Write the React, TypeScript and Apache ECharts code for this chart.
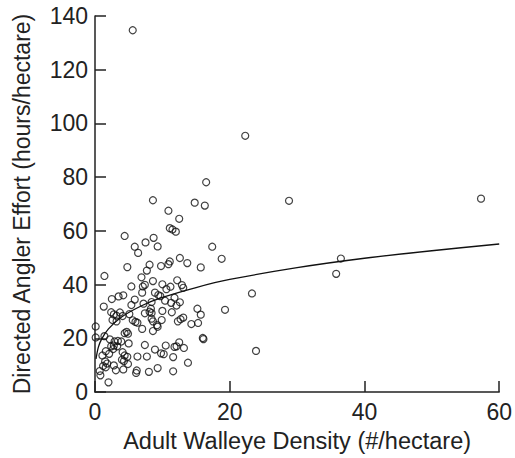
import React, { useEffect, useRef } from "react";
import * as echarts from "echarts";

const densityX: number[] = [
  16.5, 8.6, 14.8, 16.3, 28.8, 10.9, 12.5, 11.1, 11.5, 12.0,
  4.4, 8.7, 7.5, 5.9, 9.3, 6.4, 17.4, 18.8, 12.6, 11.1,
  10.9, 13.7, 9.8, 8.1, 4.8, 15.7, 7.7, 1.4, 6.9, 12.2,
  8.6, 7.4, 7.1, 10.0, 11.2, 12.9, 13.1, 5.4, 10.6, 23.3,
  7.0, 8.9, 9.4, 9.7, 3.5, 4.2, 11.8, 2.5, 5.9, 10.4,
  11.3, 8.4, 7.2, 12.6, 5.4, 1.3, 12.1, 8.3, 8.1, 8.4,
  15.2, 19.3, 2.4, 2.8, 3.2, 3.7, 4.1, 5.1, 7.4, 10.0,
  11.4, 15.7, 2.6, 3.2, 5.6, 6.0, 6.3, 8.4, 8.6, 9.9,
  12.3, 12.7, 13.1, 14.3, 15.3, 0.1, 9.2, 9.3, 4.7, 4.4,
  4.9, 7.0, 8.6, 0.1, 1.4, 2.2, 16.0, 16.1, 2.9, 3.4,
  3.9, 5.0, 12.5, 2.4, 2.8, 3.3, 7.4, 10.5, 11.8, 12.1,
  13.2, 1.6, 2.7, 2.1, 23.9, 8.9, 9.8, 10.2, 4.1, 4.4,
  4.8, 1.1, 6.3, 7.7, 11.6, 4.0, 4.3, 1.5, 1.8, 13.8,
  4.9, 1.2, 1.6, 2.8, 4.2, 3.1, 9.3, 6.2, 6.1, 8.0,
  11.6, 0.7, 0.8, 2.0, 22.3, 57.3, 36.5, 35.8, 5.6,
];

const effortY: number[] = [
  78.1, 71.4, 70.5, 69.4, 71.2, 67.5, 64.5, 61.0, 60.5, 59.7,
  58.1, 57.4, 55.7, 54.1, 54.2, 51.8, 54.1, 49.6, 49.9, 48.6,
  47.6, 48.0, 46.9, 47.4, 46.5, 46.4, 45.2, 43.2, 42.7, 41.6,
  41.3, 39.9, 39.3, 40.1, 39.2, 39.8, 38.8, 39.3, 38.3, 36.7,
  37.0, 37.0, 36.1, 35.7, 35.6, 36.0, 35.1, 34.6, 34.4, 34.0,
  33.2, 33.5, 32.9, 33.4, 32.4, 31.8, 32.2, 31.0, 29.9, 29.4,
  31.0, 30.6, 29.7, 28.9, 28.4, 29.6, 28.3, 29.0, 29.3, 30.2,
  29.7, 28.8, 26.8, 26.3, 26.7, 26.1, 25.8, 27.3, 26.3, 26.8,
  26.3, 27.1, 27.7, 25.3, 25.7, 24.4, 24.9, 24.3, 22.4, 21.9,
  21.7, 23.5, 22.7, 20.3, 20.8, 19.6, 20.1, 19.7, 18.8, 19.0,
  18.8, 18.1, 18.5, 17.0, 17.3, 17.0, 17.5, 17.3, 16.8, 17.0,
  16.4, 15.2, 16.0, 14.2, 15.3, 15.8, 14.4, 14.1, 14.8, 13.6,
  13.1, 13.6, 13.2, 13.2, 13.0, 12.0, 11.5, 11.4, 10.6, 10.9,
  10.4, 9.7, 9.2, 9.9, 8.4, 8.1, 8.9, 8.0, 7.1, 7.5,
  7.7, 7.8, 6.2, 3.6, 95.4, 72.0, 49.7, 44.0, 134.7,
];

// fitted curve
const curveX: number[] = [0.15, 0.5, 1, 2, 4, 7, 10, 15, 20, 30, 40, 50, 60];
const curveY: number[] = [12.3, 16.7, 19.8, 23.5, 28.0, 32.2, 35.2, 38.9, 41.9, 46.3, 49.8, 52.6, 55.1];

const xTicks: number[] = [0, 20, 40, 60];
const yTicks: number[] = [0, 20, 40, 60, 80, 100, 120, 140];

const FONT = "'Liberation Sans', Arial, Helvetica, sans-serif";
const INK = "#222";

export default function App() {
  const ref = useRef<HTMLDivElement>(null);
  useEffect(() => {
    if (!ref.current) return;
    const chart = echarts.init(ref.current, undefined, { renderer: "svg" });
    const points = densityX.map((x, i) => [x, effortY[i]]);
    const curve = curveX.map((x, i) => [x, curveY[i]]);
    chart.setOption({
      animation: false,
      backgroundColor: "#fff",
      grid: { left: 95, top: 16, width: 407, height: 381, containLabel: false },
      xAxis: {
        type: "value",
        min: xTicks[0],
        max: xTicks[xTicks.length - 1],
        interval: 20,
        name: "Adult Walleye Density (#/hectare)",
        nameLocation: "middle",
        nameGap: 37,
        nameTextStyle: { fontFamily: FONT, fontSize: 23.5, color: INK },
        axisLine: { lineStyle: { color: INK, width: 1.5 } },
        axisTick: { inside: true, length: 11, lineStyle: { color: INK, width: 1.5 } },
        axisLabel: { fontFamily: FONT, fontSize: 23, color: INK, margin: 8 },
        splitLine: { show: false },
      },
      yAxis: {
        type: "value",
        min: yTicks[0],
        max: yTicks[yTicks.length - 1],
        interval: 20,
        name: "Directed Angler Effort (hours/hectare)",
        nameLocation: "middle",
        nameGap: 62,
        nameTextStyle: { fontFamily: FONT, fontSize: 23, color: INK },
        axisLine: { lineStyle: { color: INK, width: 1.5 } },
        axisTick: { inside: true, length: 11, lineStyle: { color: INK, width: 1.5 } },
        axisLabel: { fontFamily: FONT, fontSize: 23, color: INK, margin: 7 },
        splitLine: { show: false },
      },
      series: [
        {
          type: "scatter",
          data: points,
          symbol: "circle",
          symbolSize: 7,
          itemStyle: { color: "rgba(0,0,0,0)", borderColor: "#111", borderWidth: 1.2 },
          clip: false,
        },
        {
          type: "line",
          data: curve,
          smooth: 0.3,
          showSymbol: false,
          lineStyle: { color: "#111", width: 1.3 },
        },
      ],
    });
    return () => chart.dispose();
  }, []);
  return <div ref={ref} style={{ width: 515, height: 458, position: "absolute", left: 0, top: 0 }} />;
}
